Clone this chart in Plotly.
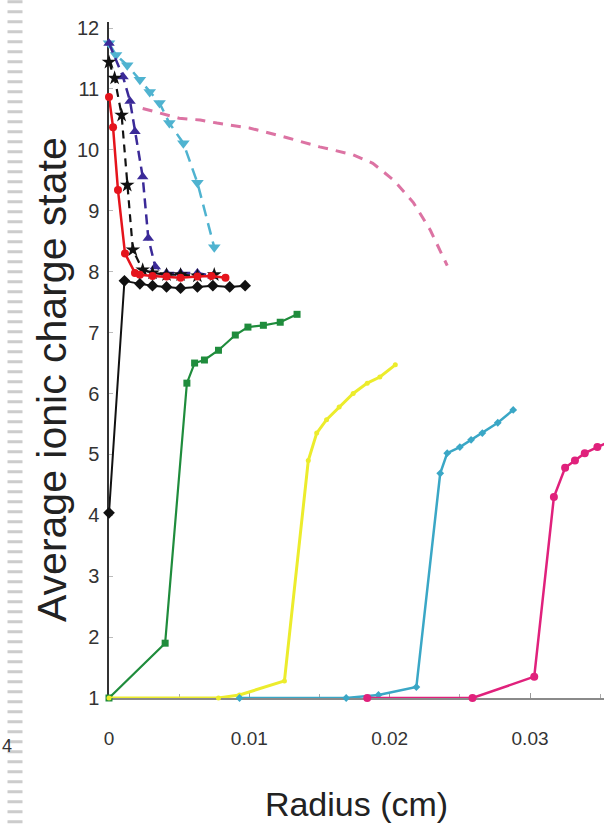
import plotly.graph_objects as go

# ---- data (radius in cm, average ionic charge state) ----
red_x = [0.0, 0.00029, 0.00064, 0.00114, 0.00185, 0.0022, 0.0031, 0.0041, 0.0051, 0.0063, 0.0073, 0.0083]
red_y = [10.87, 10.37, 9.34, 8.3, 7.98, 7.95, 7.93, 7.92, 7.9, 7.92, 7.93, 7.9]

blackdash_x = [0.0, 0.0004, 0.0009, 0.0013, 0.0017, 0.0024, 0.0031, 0.0041, 0.0051, 0.0063, 0.0075]
blackdash_y = [11.44, 11.18, 10.57, 9.42, 8.36, 8.03, 7.98, 7.95, 7.95, 7.93, 7.95]

purple_x = [0.0, 0.001, 0.0015, 0.00185, 0.0024, 0.0028, 0.0033, 0.0041, 0.0051, 0.0063, 0.0074]
purple_y = [11.75, 11.2, 10.8, 10.3, 9.56, 8.55, 8.08, 7.98, 7.98, 7.98, 7.93]

cyan_x = [0.0, 0.0005, 0.0013, 0.0022, 0.0029, 0.0036, 0.0043, 0.0053, 0.0063, 0.0075]
cyan_y = [11.75, 11.56, 11.39, 11.15, 10.95, 10.77, 10.44, 10.11, 9.46, 8.4]

pink_x = [0.0024, 0.005, 0.0065, 0.0077, 0.01, 0.0127, 0.015, 0.0174, 0.0188, 0.0203, 0.0217, 0.0229, 0.0241]
pink_y = [10.68, 10.52, 10.49, 10.44, 10.36, 10.2, 10.05, 9.92, 9.78, 9.5, 9.13, 8.68, 8.1]

blacksolid_x = [0.0, 0.0011, 0.0022, 0.0031, 0.0041, 0.0051, 0.0063, 0.0074, 0.0086, 0.0097]
blacksolid_y = [4.04, 7.85, 7.8, 7.77, 7.75, 7.73, 7.75, 7.77, 7.75, 7.77]

green_x = [0.0, 0.004, 0.00555, 0.0061, 0.0068, 0.0078, 0.009, 0.0099, 0.011, 0.0122, 0.0134]
green_y = [1.0, 1.9, 6.17, 6.5, 6.55, 6.71, 6.96, 7.09, 7.12, 7.17, 7.3]

yellow_x = [0.0, 0.0078, 0.0093, 0.0125, 0.0142, 0.0148, 0.0155, 0.0164, 0.0174, 0.0184, 0.0193, 0.0204]
yellow_y = [1.0, 1.0, 1.05, 1.28, 4.9, 5.35, 5.57, 5.78, 6.0, 6.17, 6.27, 6.47]

teal_x = [0.0093, 0.0169, 0.0192, 0.0219, 0.0236, 0.0241, 0.025, 0.0258, 0.0266, 0.0277, 0.0288]
teal_y = [1.0, 1.0, 1.05, 1.18, 4.69, 5.02, 5.12, 5.24, 5.35, 5.52, 5.73]

magenta_x = [0.0184, 0.0259, 0.0303, 0.0317, 0.0325, 0.0332, 0.0339, 0.0348, 0.0356]
magenta_y = [1.0, 1.0, 1.35, 4.3, 4.78, 4.9, 5.02, 5.12, 5.2]

x_tickvals = [0, 0.01, 0.02, 0.03]
x_ticktext = ["0", "0.01", "0.02", "0.03"]
y_tickvals = list(range(1, 13))

fig = go.Figure()

def add(x, y, color, symbol, size, dash="solid", width=2.2, mode="lines+markers"):
    fig.add_trace(go.Scatter(
        x=x, y=y, mode=mode, cliponaxis=False,
        line=dict(color=color, width=width, dash=dash),
        marker=dict(color=color, symbol=symbol, size=size),
        showlegend=False, hoverinfo="skip"))

add(green_x, green_y, "#1f8c3c", "square", 7)
add(yellow_x, yellow_y, "#ecec2c", "circle", 5, width=3)
add(teal_x, teal_y, "#3aa7c6", "diamond", 6, width=2.5)
add(magenta_x, magenta_y, "#e0217c", "circle", 8, width=2.5)
add(pink_x, pink_y, "#dc73a3", "circle", 1, dash="10px,8px", width=3, mode="lines")
add(cyan_x, cyan_y, "#4fb3d0", "triangle-down", 11, dash="12px,7px", width=2.5)
add(purple_x, purple_y, "#3b2a98", "triangle-up", 10, dash="10px,6px", width=2.5)
add(blackdash_x, blackdash_y, "#111111", "star", 11, dash="8px,6px", width=2.2)
add(red_x, red_y, "#e5141c", "circle", 8, width=2.5)
add(blacksolid_x, blacksolid_y, "#111111", "diamond", 9, width=2)

fig.update_layout(
    width=604, height=830,
    margin=dict(l=109, r=0, t=22, b=132),
    paper_bgcolor="white", plot_bgcolor="white",
    font=dict(family="Liberation Sans, Arial, sans-serif", color="#333333"),
    xaxis=dict(
        range=[0, 0.03527], showgrid=False, zeroline=False, automargin=False,
        showline=True, linecolor="#8a8a8a", linewidth=2, layer="below traces",
        tickvals=x_tickvals, ticktext=x_ticktext,
        ticks="inside", ticklen=5, tickcolor="#999999",
        minor=dict(dtick=0.005, ticks="inside", ticklen=4, tickcolor="#aaaaaa"),
        tickfont=dict(size=19, color="#333333"),
        ticklabelstandoff=22,
        title=dict(text="Radius (cm)", font=dict(size=34, color="#222222"), standoff=44),
    ),
    yaxis=dict(
        range=[1, 12.1], showgrid=False, zeroline=False, automargin=False,
        showline=True, linecolor="#333333", linewidth=1.5, layer="below traces",
        tickvals=y_tickvals, ticks="inside", ticklen=4, tickcolor="#bbbbbb",
        tickfont=dict(size=20, color="#333333"),
        ticklabelstandoff=4,
    ),
)

# y-axis title placed as an annotation (slightly below the plot-area centre, as in the source)
fig.add_annotation(xref="paper", yref="paper", x=(52 - 109) / 495, y=(698 - 380) / 676,
                   xanchor="center", yanchor="middle", textangle=-90,
                   text="Average ionic charge state", showarrow=False,
                   font=dict(size=41, color="#222222"))

# ruler-like strip on the far left edge
fig.add_shape(type="line", xref="paper", yref="paper",
              x0=(15 - 109) / 495, x1=(15 - 109) / 495, y0=-0.2, y1=1.04,
              line=dict(color="#cccccc", width=15, dash="3px,7px"))
fig.add_annotation(xref="paper", yref="paper", x=(0 - 109) / 495, y=(698 - 746) / 676,
                   xanchor="left", yanchor="middle", text="4", showarrow=False,
                   font=dict(size=18, color="#333333"))

fig.write_html("out.html", post_script="document.body.style.margin='0';",
               config={"displayModeBar": False})
